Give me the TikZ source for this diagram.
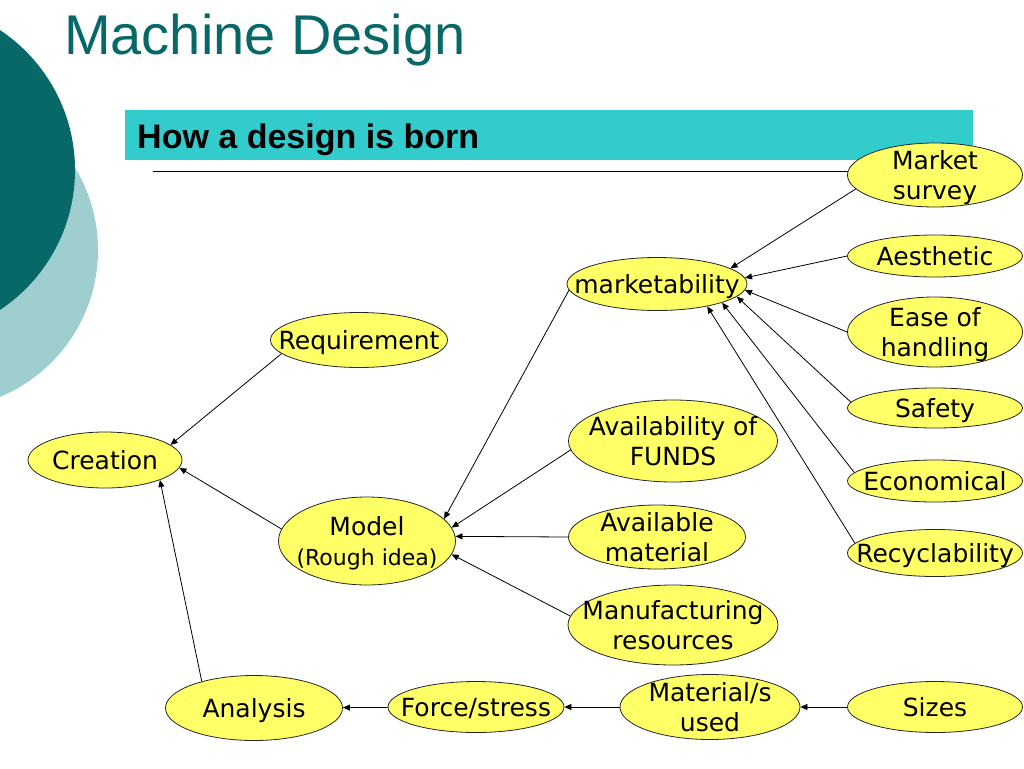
\documentclass[tikz,border=0pt]{standalone}
\usepackage{fontspec}
\setmainfont{DejaVu Sans}
\newfontfamily\arialfont{Liberation Sans}
\usetikzlibrary{shapes.geometric,arrows.meta}
\definecolor{deepteal}{RGB}{8,104,104}
\definecolor{paleteal}{RGB}{158,206,206}
\definecolor{barcyan}{RGB}{51,204,204}
\definecolor{ideayellow}{RGB}{255,255,102}
\tikzset{
    idea/.style={ellipse, draw=black!85, line width=0.8pt, fill=ideayellow, inner sep=0pt, font=\fontsize{25}{30}\selectfont},
    arr/.style={line width=0.8pt,-{Triangle[length=7pt,width=6pt]}}
    }
% text that may run over the oval, as in the slide
\newcommand{\inoval}[1]{\makebox[0pt]{\raisebox{-.37em}[0pt][0pt]{\begin{tabular}{@{}c@{}}#1\end{tabular}}}}

\begin{document}
\begin{tikzpicture}[x=1pt,y=-1pt]
    \useasboundingbox (0,0) rectangle (1024,768);
    \clip (0,0) rectangle (1024,768);
    % slide decoration
    \fill[paleteal] (-61,250) circle[radius=159pt];
    \fill[deepteal] (-93,170) circle[radius=168pt];
    \node[anchor=base west, inner sep=0pt, text=deepteal, font=\arialfont\fontsize{56}{60}\selectfont] (title) at (64,55) {Machine Design};
    \fill[barcyan] (125,110) rectangle (973,160);
    \node[anchor=base west, inner sep=0pt, font=\arialfont\bfseries\fontsize{34}{40}\selectfont] (subtitle) at (137,148) {How a design is born};
    \draw[line width=1pt] (153,171) -- (900,171);

    % right column
    \node[idea, minimum width=175pt, minimum height=64pt] (survey) at (935,175) {\inoval{Market\\survey}};
    \node[idea, minimum width=175pt, minimum height=42pt] (aesthetic) at (935,256) {\inoval{Aesthetic}};
    \node[idea, minimum width=175pt, minimum height=70pt] (ease) at (935,332) {\inoval{Ease of\\handling}};
    \node[idea, minimum width=175pt, minimum height=40pt] (safety) at (935,408) {\inoval{Safety}};
    \node[idea, minimum width=175pt, minimum height=42pt] (econ) at (935,481) {\inoval{Economical}};
    \node[idea, minimum width=175pt, minimum height=47pt] (recycl) at (935,553) {\inoval{Recyclability}};
    % middle
    \node[idea, minimum width=180pt, minimum height=53pt] (market) at (657,284) {\inoval{marketability}};
    \node[idea, minimum width=209pt, minimum height=82pt] (funds) at (673,441) {\inoval{Availability of\\FUNDS}};
    \node[idea, minimum width=177pt, minimum height=64pt] (avmat) at (657,537) {\inoval{Available\\material}};
    \node[idea, minimum width=210pt, minimum height=80pt] (manuf) at (673,625) {\inoval{Manufacturing\\resources}};
    % left
    \node[idea, minimum width=177pt, minimum height=55pt] (req) at (359,340) {\inoval{Requirement}};
    \node[idea, minimum width=154pt, minimum height=56pt] (creation) at (105,460) {\inoval{Creation}};
    \node[idea, minimum width=177pt, minimum height=88pt] (model) at (367,541) {\inoval{Model\\{\fontsize{22}{27}\selectfont (Rough idea)}}};
    % bottom row
    \node[idea, minimum width=177pt, minimum height=65pt] (analysis) at (254,708) {\inoval{Analysis}};
    \node[idea, minimum width=176pt, minimum height=51pt] (force) at (476,707) {\inoval{Force/stress}};
    \node[idea, minimum width=180pt, minimum height=65pt] (matused) at (710,707) {\inoval{Material/s\\used}};
    \node[idea, minimum width=175pt, minimum height=51pt] (sizes) at (935,707) {\inoval{Sizes}};

    \draw[arr] (survey.190) -- (market.12);
    \draw[arr] (aesthetic.180) -- (market.4);
    \draw[arr] (ease.180) -- (market.-4);
    \draw[arr] (safety.176) -- (market.-9);
    \draw[arr] (econ.174) -- (market.-16);
    \draw[arr] (recycl.173) -- (market.-24);
    \draw[arr] (market.184) -- (model.16);
    \draw[arr] (funds.185) -- (model.9);
    \draw[arr] (avmat.180) -- (model.3);
    \draw[arr] (manuf.175) -- (model.-9);
    \draw[arr] (req.190) -- (creation.13);
    \draw[arr] (model.172) -- (creation.-6);
    \draw[arr] (analysis.153) -- (creation.-20);
    \draw[arr] (sizes) -- (matused);
    \draw[arr] (matused) -- (force);
    \draw[arr] (force) -- (analysis);
\end{tikzpicture}
\end{document}
